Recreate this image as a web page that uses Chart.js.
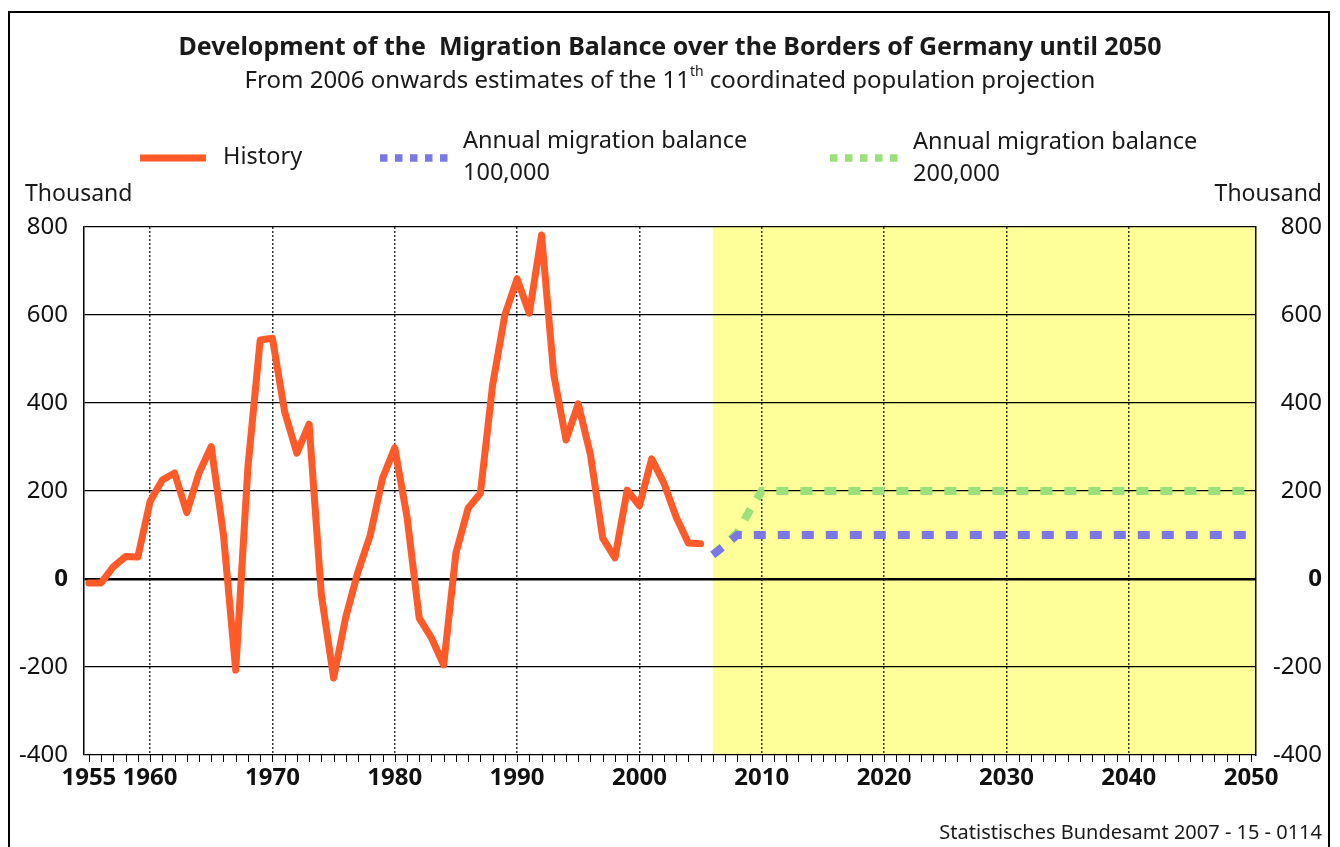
<!DOCTYPE html>
<html>
<head>
<meta charset="utf-8">
<script src="https://cdn.jsdelivr.net/npm/chart.js@4.4.1/dist/chart.umd.min.js"></script>
<style>
  html, body { margin: 0; padding: 0; background: #fff; }
</style>
</head>
<body>
<canvas id="migChart" width="1340" height="847"></canvas>
<script>
// Wanderungssaldo über die Grenzen Deutschlands (in Tausend)
const historyYears = [1955, 1956, 1957, 1958, 1959, 1960, 1961, 1962, 1963, 1964,
  1965, 1966, 1967, 1968, 1969, 1970, 1971, 1972, 1973, 1974,
  1975, 1976, 1977, 1978, 1979, 1980, 1981, 1982, 1983, 1984,
  1985, 1986, 1987, 1988, 1989, 1990, 1991, 1992, 1993, 1994,
  1995, 1996, 1997, 1998, 1999, 2000, 2001, 2002, 2003, 2004, 2005];
const historyValues = [-9, -9, 28, 51, 50, 176, 225, 241, 151, 241,
  301, 100, -207, 255, 543, 547, 380, 286, 352, -36,
  -225, -86, 17, 100, 229, 298, 142, -89, -134, -195,
  59, 161, 195, 441, 600, 682, 604, 782, 464, 316,
  398, 282, 93, 48, 202, 166, 273, 218, 141, 82, 80];

// Vorausberechnung ab 2006
const proj100Years = [2006, 2007, 2008, 2050];
const proj100Values = [55, 77, 100, 100];
const proj200Years = [2006, 2007, 2008, 2009, 2010, 2050];
const proj200Values = [55, 78, 105, 155, 200, 200];

const projectionStart = 2006;
const xTickYears = [1955, 1960, 1970, 1980, 1990, 2000, 2010, 2020, 2030, 2040, 2050];
const yTickValues = [-400, -200, 0, 200, 400, 600, 800];

const legendLabels = [["History"], ["Annual migration balance", "100,000"], ["Annual migration balance", "200,000"]];

const FONT = "'Noto Sans', 'Open Sans', sans-serif";
const ORANGE = "#ff5a28";
const BLUE = "#7b78e6";
const GREEN = "#9be078";

const toPoints = (xs, ys) => xs.map((x, i) => ({ x: x, y: ys[i] }));

// gelber Hintergrund für den Prognosezeitraum
const projectionBand = {
  id: "projectionBand",
  beforeDraw(chart) {
    const { ctx, chartArea, scales } = chart;
    ctx.save();
    ctx.fillStyle = "#fff";
    ctx.fillRect(0, 0, chart.width, chart.height);
    const x0 = scales.x.getPixelForValue(projectionStart);
    ctx.fillStyle = "#ffff99";
    ctx.fillRect(x0, chartArea.top, chartArea.right - x0, chartArea.bottom - chartArea.top);
    ctx.restore();
  }
};

// Überschrift, Legende, Einheiten, Quelle, Rahmen, Jahres-Striche
const decorations = {
  id: "decorations",
  afterDraw(chart) {
    const { ctx, chartArea, scales } = chart;
    ctx.save();
    ctx.fillStyle = "#1a1a1a";
    ctx.textBaseline = "middle";

    // Titel
    ctx.textAlign = "center";
    ctx.font = "bold 25px " + FONT;
    ctx.fillText("Development of the  Migration Balance over the Borders of Germany until 2050", 670, 48);

    // Untertitel mit hochgestelltem "th"
    const partA = "From 2006 onwards estimates of the 11";
    const partB = "th";
    const partC = " coordinated population projection";
    ctx.font = "24px " + FONT;
    const wA = ctx.measureText(partA).width;
    const wC = ctx.measureText(partC).width;
    ctx.font = "14px " + FONT;
    const wB = ctx.measureText(partB).width;
    let sx = 670 - (wA + wB + wC) / 2;
    ctx.textAlign = "left";
    ctx.font = "24px " + FONT;
    ctx.fillText(partA, sx, 81);
    ctx.font = "14px " + FONT;
    ctx.fillText(partB, sx + wA, 72);
    ctx.font = "24px " + FONT;
    ctx.fillText(partC, sx + wA + wB, 81);

    // Legende
    const drawSample = (x1, x2, color, width, dash) => {
      ctx.save();
      ctx.strokeStyle = color;
      ctx.lineWidth = width;
      ctx.setLineDash(dash);
      ctx.beginPath();
      ctx.moveTo(x1, 158);
      ctx.lineTo(x2, 158);
      ctx.stroke();
      ctx.restore();
    };
    drawSample(140, 206, ORANGE, 7, []);
    drawSample(380, 450, BLUE, 7.5, [7.5, 7.5]);
    drawSample(830, 898, GREEN, 7.5, [7.5, 7.5]);
    ctx.font = "23.5px " + FONT;
    ctx.fillText(legendLabels[0][0], 223, 157);
    ctx.fillText(legendLabels[1][0], 463, 141);
    ctx.fillText(legendLabels[1][1], 463, 173);
    ctx.fillText(legendLabels[2][0], 913, 142);
    ctx.fillText(legendLabels[2][1], 913, 174);

    // Einheit
    ctx.font = "23px " + FONT;
    ctx.textAlign = "left";
    ctx.fillText("Thousand", 25, 194);
    ctx.textAlign = "right";
    ctx.fillText("Thousand", 1322, 194);

    // Quelle
    ctx.font = "20px " + FONT;
    ctx.fillText("Statistisches Bundesamt 2007 - 15 - 0114", 1322, 833);

    // kleine Jahres-Striche unter der x-Achse
    const xs = scales.x;
    ctx.strokeStyle = "#000";
    ctx.lineWidth = 1;
    ctx.beginPath();
    for (let yr = Math.ceil(xs.min); yr <= Math.floor(xs.max); yr++) {
      const px = Math.round(xs.getPixelForValue(yr)) + 0.5;
      ctx.moveTo(px, chartArea.bottom);
      ctx.lineTo(px, chartArea.bottom + 7);
    }
    ctx.stroke();

    // Rahmen
    ctx.lineWidth = 2;
    ctx.beginPath();
    ctx.moveTo(9, 847);
    ctx.lineTo(9, 12);
    ctx.lineTo(1329, 12);
    ctx.lineTo(1329, 847);
    ctx.stroke();
    ctx.restore();
  }
};

const yTickFont = (c) => ({ family: FONT, size: 24, weight: c.tick && c.tick.value === 0 ? "bold" : "normal" });

new Chart(document.getElementById("migChart").getContext("2d"), {
  type: "line",
  data: {
    datasets: [
      {
        label: "History",
        data: toPoints(historyYears, historyValues),
        borderColor: ORANGE,
        borderWidth: 7,
        borderJoinStyle: "round",
        borderCapStyle: "round",
        pointRadius: 0,
        tension: 0
      },
      {
        label: "Annual migration balance 100,000",
        data: toPoints(proj100Years, proj100Values),
        borderColor: BLUE,
        borderWidth: 8,
        borderDash: [12, 12],
        pointRadius: 0,
        tension: 0
      },
      {
        label: "Annual migration balance 200,000",
        data: toPoints(proj200Years, proj200Values),
        borderColor: GREEN,
        borderWidth: 8,
        borderDash: [12, 12],
        pointRadius: 0,
        tension: 0
      }
    ]
  },
  options: {
    responsive: false,
    animation: false,
    devicePixelRatio: 1,
    layout: { padding: { top: 227, bottom: 47, left: 0, right: 18 } },
    scales: {
      x: {
        type: "linear",
        min: 1954.6,
        max: 2050.4,
        afterBuildTicks: (scale) => { scale.ticks = xTickYears.map(v => ({ value: v })); },
        afterFit: (scale) => { scale.height = 45; },
        ticks: {
          autoSkip: false,
          maxRotation: 0,
          padding: 9,
          color: "#111",
          font: { family: FONT, size: 24, weight: "bold" },
          callback: (v) => String(v)
        },
        grid: {
          drawTicks: false,
          lineWidth: 1.5,
          color: (c) => (c.tick && c.tick.value > xTickYears[0] && c.tick.value < xTickYears[xTickYears.length - 1]) ? "#333" : "rgba(0,0,0,0)"
        },
        border: { display: false, dash: [2, 2] }
      },
      y: {
        position: "left",
        min: yTickValues[0],
        max: yTickValues[yTickValues.length - 1],
        afterBuildTicks: (scale) => { scale.ticks = yTickValues.map(v => ({ value: v })); },
        afterFit: (scale) => { scale.width = 84; },
        ticks: { padding: 16, color: "#111", font: yTickFont },
        grid: {
          drawTicks: false,
          color: "#000",
          lineWidth: (c) => (c.tick && c.tick.value === 0 ? 2.5 : 1.2)
        },
        border: { display: true, color: "#000", width: 1.5 }
      },
      y2: {
        position: "right",
        min: yTickValues[0],
        max: yTickValues[yTickValues.length - 1],
        afterBuildTicks: (scale) => { scale.ticks = yTickValues.map(v => ({ value: v })); },
        afterFit: (scale) => { scale.width = 66; },
        ticks: { crossAlign: "far", color: "#111", font: yTickFont },
        grid: { drawOnChartArea: false, drawTicks: false },
        border: { display: true, color: "#000", width: 1.5 }
      }
    },
    plugins: {
      legend: { display: false },
      title: { display: false },
      tooltip: { enabled: false }
    }
  },
  plugins: [projectionBand, decorations]
});
</script>
</body>
</html>
